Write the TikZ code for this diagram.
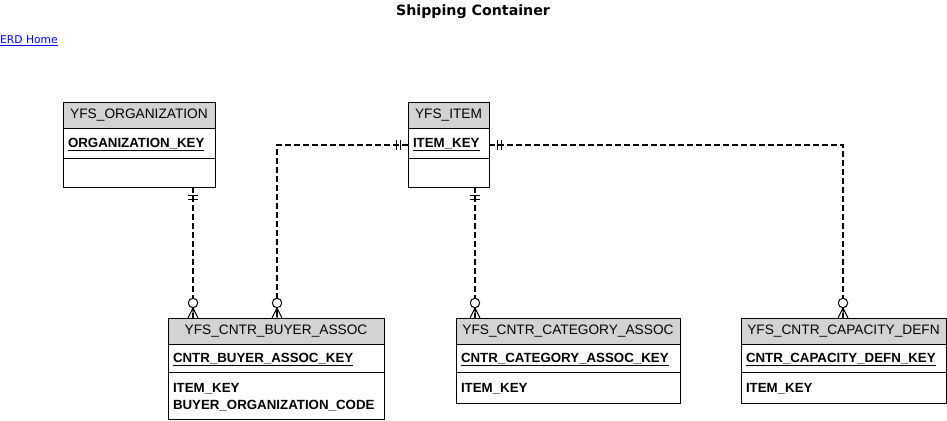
\documentclass[tikz,border=0pt]{standalone}
\usepackage{fontspec}
\setmainfont{Liberation Sans}
\newfontfamily\verdana{DejaVu Sans}
\usetikzlibrary{positioning,calc}
\definecolor{hdrgray}{RGB}{211,211,211}
\definecolor{linkblue}{RGB}{0,0,238}
\newcommand{\pkey}[1]{\underline{\textbf{#1}}}

\tikzset{
  hdr/.style={draw, fill=hdrgray, outer sep=0pt, inner sep=0pt, minimum height=26pt,
    font=\fontsize{13.7}{15}\selectfont},
  row/.style={draw, outer sep=0pt, inner xsep=5pt, inner ysep=0pt, align=left, text depth=0pt,
    font=\fontsize{13.3}{17}\selectfont\bfseries},
  rel/.style={line width=1.5pt, dash pattern=on 6pt off 3pt},
  one/.pic={\draw[line width=1pt] (-5,8) -- (5,8) (-5,12) -- (5,12);},
  many/.pic={\draw[line width=1pt, fill=white] (0,-15) circle (4.7pt);
    \draw[line width=1pt] (-5,0) -- (0,-10) -- (5,0) (0,-10) -- (0,0);}
}

\begin{document}
\begin{tikzpicture}[x=1pt, y=-1pt]
\useasboundingbox (0,0) rectangle (947,420);

\node[font=\verdana\bfseries\fontsize{14.2}{16}\selectfont] (title) at (473,12) {Shipping Container};
\node[anchor=west, inner sep=0pt, text=linkblue, font=\verdana\fontsize{10.7}{12}\selectfont] (home) at (0,41) {\underline{ERD Home}};

% parent tables
\node[hdr, minimum width=152pt] (org) at (139,115) {YFS\_ORGANIZATION};
\node[row, text width=142pt, minimum height=30pt, below=0pt of org] (orgK) {\pkey{ORGANIZATION\_KEY}};
\node[row, text width=142pt, minimum height=29pt, below=0pt of orgK] (orgA) {};

\node[hdr, minimum width=81pt] (item) at (448.5,115) {YFS\_ITEM};
\node[row, text width=71pt, minimum height=30pt, below=0pt of item] (itemK) {\pkey{ITEM\_KEY}};
\node[row, text width=71pt, minimum height=29pt, below=0pt of itemK] (itemA) {};

% child tables
\node[hdr, minimum width=216pt] (buy) at (276,331) {YFS\_CNTR\_BUYER\_ASSOC};
\node[row, text width=206pt, minimum height=28pt, below=0pt of buy] (buyK) {\pkey{CNTR\_BUYER\_ASSOC\_KEY}};
\node[row, text width=206pt, minimum height=47pt, text depth=15pt, below=0pt of buyK] (buyA) {ITEM\_KEY\\BUYER\_ORGANIZATION\_CODE};

\node[hdr, minimum width=224pt] (cat) at (568,331) {YFS\_CNTR\_CATEGORY\_ASSOC};
\node[row, text width=214pt, minimum height=28pt, below=0pt of cat] (catK) {\pkey{CNTR\_CATEGORY\_ASSOC\_KEY}};
\node[row, text width=214pt, minimum height=31pt, below=0pt of catK] (catA) {ITEM\_KEY};

\node[hdr, minimum width=205pt] (cap) at (843.5,331) {YFS\_CNTR\_CAPACITY\_DEFN};
\node[row, text width=195pt, minimum height=28pt, below=0pt of cap] (capK) {\pkey{CNTR\_CAPACITY\_DEFN\_KEY}};
\node[row, text width=195pt, minimum height=31pt, below=0pt of capK] (capA) {ITEM\_KEY};

% relationships
\coordinate (xorg) at (193,0);
\coordinate (xbuy) at (277,0);
\coordinate (xcat) at (475,0);
\coordinate (xcap) at (843,0);
\coordinate (yitem) at (0,145);

\draw[rel] (orgA.south -| xorg) -- (buy.north -| xorg);
\draw[rel] (item.west |- yitem) -- (xbuy |- yitem) -- (buy.north -| xbuy);
\draw[rel] (itemA.south -| xcat) -- (cat.north -| xcat);
\draw[rel] (item.east |- yitem) -- (xcap |- yitem) -- (cap.north -| xcap);

\pic at (orgA.south -| xorg) {one};
\pic at (itemA.south -| xcat) {one};
\pic[rotate=-90] at (item.west |- yitem) {one};
\pic[rotate=90] at (item.east |- yitem) {one};
\pic at (buy.north -| xorg) {many};
\pic at (buy.north -| xbuy) {many};
\pic at (cat.north -| xcat) {many};
\pic at (cap.north -| xcap) {many};
\end{tikzpicture}
\end{document}
